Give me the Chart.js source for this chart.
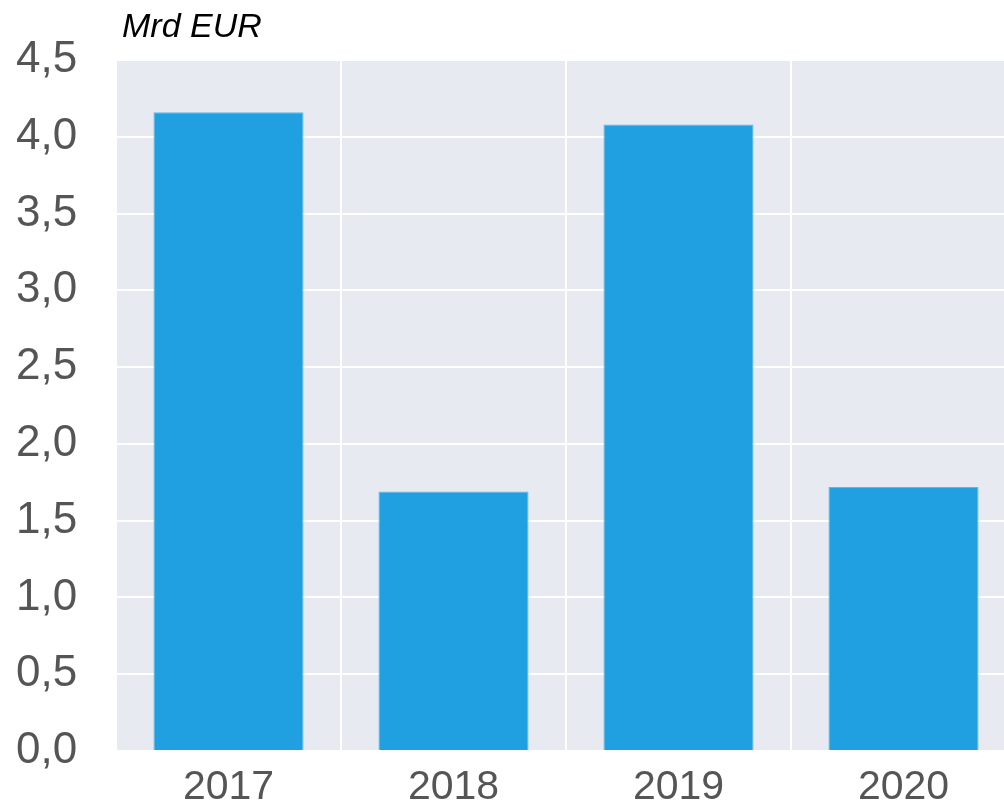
<!DOCTYPE html>
<html>
<head>
<meta charset="utf-8">
<script src="https://cdn.jsdelivr.net/npm/chart.js@4"></script>
<style>
  html, body { margin: 0; padding: 0; background: #fff; overflow: hidden; }
  canvas { display: block; }
</style>
</head>
<body>
<!-- plot runs past the right window edge, as in the original -->
<canvas id="chart" width="1016" height="801"></canvas>
<script>
// data
const YEARS = ['2017', '2018', '2019', '2020'];
const VALUES = [4.16, 1.69, 4.08, 1.72];
const UNIT = 'Mrd EUR';

const FONT = '"Liberation Sans", Arial, sans-serif';

// plot background + unit label
const bgPlugin = {
    id: 'bg',
    beforeDraw(chart) {
        const { ctx, chartArea: a } = chart;
        ctx.save();
        ctx.fillStyle = '#e8eaf2';
        ctx.fillRect(a.left, a.top, a.right - a.left, a.bottom - a.top);
        ctx.restore();
    },
    afterDraw(chart) {
        const { ctx, chartArea: a } = chart;
        ctx.save();
        ctx.fillStyle = '#000';
        ctx.font = 'italic 34px ' + FONT;
        ctx.textBaseline = 'middle';
        ctx.fillText(UNIT, a.left + 6, 28);
        ctx.restore();
    }
};

new Chart(document.getElementById('chart'), {
    type: 'bar',
    data: {
        labels: YEARS,
        datasets: [{
            data: VALUES,
            backgroundColor: '#20a0e0',
            borderColor: '#5cb8e8',
            borderWidth: 1,
            categoryPercentage: 1,
            barPercentage: 0.667
        }]
    },
    options: {
        responsive: false,
        animation: false,
        layout: { padding: { top: 60, right: 0, bottom: 0, left: 16 } },
        plugins: {
            legend: { display: false },
            tooltip: { enabled: false }
        },
        scales: {
            x: {
                grid: { color: '#ffffff', lineWidth: 2, offset: true, drawTicks: false },
                border: { display: false },
                afterFit(scale) { scale.height = 50; },
                ticks: {
                    color: '#555555',
                    padding: 12,
                    font: { family: FONT, size: 41 }
                }
            },
            y: {
                min: 0,
                max: 4.5,
                grid: { color: '#ffffff', lineWidth: 2, drawTicks: false },
                border: { display: false },
                afterFit(scale) { scale.width = 100; },
                ticks: {
                    stepSize: 0.5,
                    color: '#555555',
                    padding: 0,
                    crossAlign: 'far',
                    font: { family: FONT, size: 44 },
                    callback: v => v.toFixed(1).replace('.', ',')
                }
            }
        }
    },
    plugins: [bgPlugin]
});
</script>
</body>
</html>
